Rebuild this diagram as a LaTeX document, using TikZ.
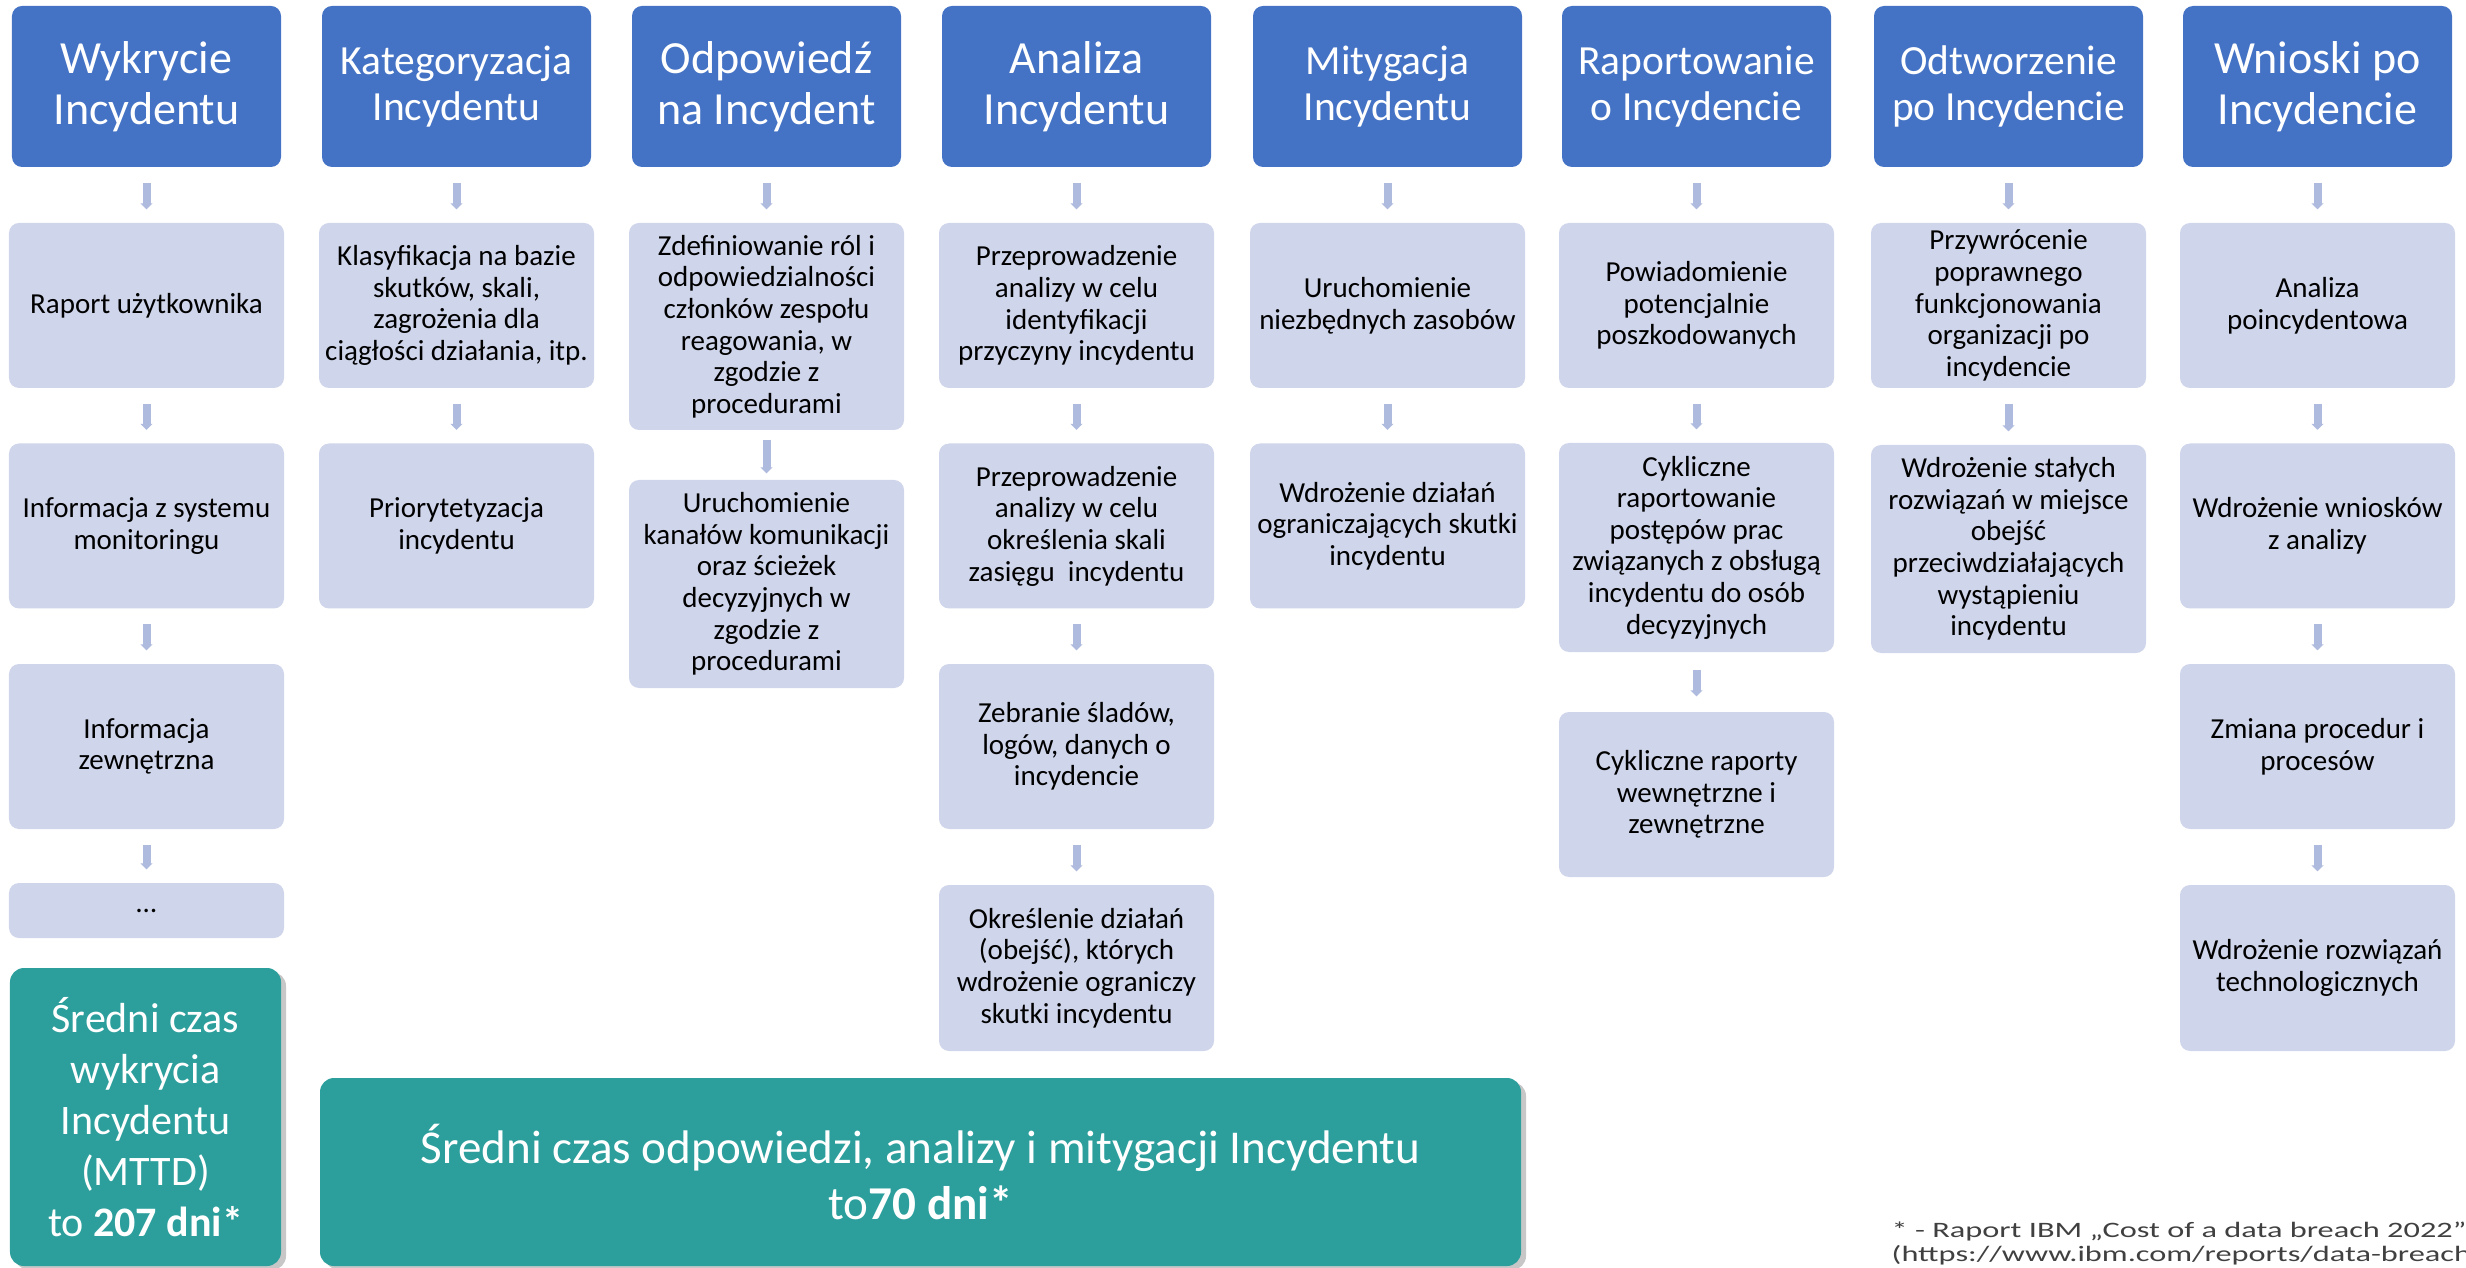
\documentclass[tikz,border=0pt]{standalone}
\usepackage{fontspec}
\setmainfont{Carlito}
\newfontfamily\notefont[FakeStretch=1.47]{Carlito}
\usetikzlibrary{arrows.meta,shadows}
\definecolor{stepblue}{RGB}{68,114,196}
\definecolor{steplav}{RGB}{207,213,234}
\definecolor{steparrow}{RGB}{174,186,222}
\definecolor{sumteal}{RGB}{44,159,157}
\definecolor{notegray}{RGB}{64,64,64}
\tikzset{
  ghead/.style ={rectangle, rounded corners=1mm, fill=stepblue, text=white,
                 minimum width=2.69cm, minimum height=1.61cm, inner sep=1pt,
                 align=center, font=\fontsize{13.1pt}{14.5pt}\selectfont},
  gheadS/.style={ghead, font=\fontsize{11.8pt}{13.1pt}\selectfont},
  gbox/.style  ={rectangle, rounded corners=1mm, fill=steplav, text=black,
                 minimum width=2.75cm, minimum height=1.65cm, inner sep=1pt,
                 align=center, font=\fontsize{8.25pt}{9.0pt}\selectfont},
  gflow/.style ={-{Triangle[width=1.2mm, length=0.6mm]}, line width=0.8mm, steparrow,
                 shorten <=1.5mm, shorten >=1.3mm},
  gsum/.style  ={rectangle, rounded corners=1.4mm, fill=sumteal, text=white,
                 align=center, inner sep=1pt,
                 drop shadow={shadow xshift=0.5mm, shadow yshift=-0.4mm,
                              fill=black, opacity=0.22}},
  gnote/.style ={anchor=north west, inner sep=0pt, align=left, text=notegray,
                 font=\notefont\fontsize{6.26pt}{6.8pt}\selectfont},
}
\begin{document}
\begin{tikzpicture}
\useasboundingbox (0,0) rectangle (24.66,-12.68);
% phases
\node[ghead]  (h1) at (1.465,-0.865)  {Wykrycie\\Incydentu};
\node[gheadS] (h2) at (4.565,-0.865)  {Kategoryzacja\\Incydentu};
\node[ghead]  (h3) at (7.665,-0.865)  {Odpowiedź\\na Incydent};
\node[ghead]  (h4) at (10.765,-0.865) {Analiza\\Incydentu};
\node[gheadS] (h5) at (13.875,-0.865) {Mitygacja\\Incydentu};
\node[gheadS] (h6) at (16.965,-0.865) {Raportowanie\\o Incydencie};
\node[gheadS] (h7) at (20.085,-0.865) {Odtworzenie\\po Incydencie};
\node[ghead]  (h8) at (23.175,-0.865) {Wnioski po\\Incydencie};
% steps
\node[gbox] (b11) at (1.465,-3.055) {Raport użytkownika};
\node[gbox] (b12) at (1.465,-5.26)  {Informacja z systemu\\monitoringu};
\node[gbox] (b13) at (1.465,-7.465) {Informacja\\zewnętrzna};
\node[gbox, minimum height=0.55cm] (b14) at (1.465,-9.105) {…};
\node[gbox] (b21) at (4.565,-3.055) {Klasyfikacja na bazie\\skutków, skali,\\zagrożenia dla\\ciągłości działania, itp.};
\node[gbox] (b22) at (4.565,-5.26)  {Priorytetyzacja\\incydentu};
\node[gbox, minimum height=2.07cm] (b31) at (7.665,-3.265) {Zdefiniowanie ról i\\odpowiedzialności\\członków zespołu\\reagowania, w\\zgodzie z\\procedurami};
\node[gbox, minimum height=2.08cm] (b32) at (7.665,-5.84) {Uruchomienie\\kanałów komunikacji\\oraz ścieżek\\decyzyjnych w\\zgodzie z\\procedurami};
\node[gbox] (b41) at (10.765,-3.055) {Przeprowadzenie\\analizy w celu\\identyfikacji\\przyczyny incydentu};
\node[gbox] (b42) at (10.765,-5.26)  {Przeprowadzenie\\analizy w celu\\określenia skali\\zasięgu~ incydentu};
\node[gbox] (b43) at (10.765,-7.465) {Zebranie śladów,\\logów, danych o\\incydencie};
\node[gbox, minimum height=1.66cm] (b44) at (10.765,-9.68) {Określenie działań\\(obejść), których\\wdrożenie ograniczy\\skutki incydentu};
\node[gbox] (b51) at (13.875,-3.055) {Uruchomienie\\niezbędnych zasobów};
\node[gbox] (b52) at (13.875,-5.26)  {Wdrożenie działań\\ograniczających skutki\\incydentu};
\node[gbox] (b61) at (16.965,-3.055) {Powiadomienie\\potencjalnie\\poszkodowanych};
\node[gbox, minimum height=2.09cm] (b62) at (16.965,-5.475) {Cykliczne\\raportowanie\\postępów prac\\związanych z obsługą\\incydentu do osób\\decyzyjnych};
\node[gbox] (b63) at (16.965,-7.945) {Cykliczne raporty\\wewnętrzne i\\zewnętrzne};
\node[gbox] (b71) at (20.085,-3.055) {Przywrócenie\\poprawnego\\funkcjonowania\\organizacji po\\incydencie};
\node[gbox, minimum height=2.08cm] (b72) at (20.085,-5.49) {Wdrożenie stałych\\rozwiązań w miejsce\\obejść\\przeciwdziałających\\wystąpieniu\\incydentu};
\node[gbox] (b81) at (23.175,-3.055) {Analiza\\poincydentowa};
\node[gbox] (b82) at (23.175,-5.26)  {Wdrożenie wniosków\\z analizy};
\node[gbox] (b83) at (23.175,-7.465) {Zmiana procedur i\\procesów};
\node[gbox, minimum height=1.66cm] (b84) at (23.175,-9.68) {Wdrożenie rozwiązań\\technologicznych};
% arrows
\draw[gflow] (h1) -- (b11); \draw[gflow] (h2) -- (b21); \draw[gflow] (h3) -- (b31); \draw[gflow] (h4) -- (b41);
\draw[gflow] (h5) -- (b51); \draw[gflow] (h6) -- (b61); \draw[gflow] (h7) -- (b71); \draw[gflow] (h8) -- (b81);
\draw[gflow] (b11) -- (b12); \draw[gflow] (b12) -- (b13); \draw[gflow] (b13) -- (b14);
\draw[gflow] (b21) -- (b22);
\draw[gflow, shorten <=0.9mm, shorten >=0.6mm] (b31) -- (b32);
\draw[gflow] (b41) -- (b42); \draw[gflow] (b42) -- (b43); \draw[gflow] (b43) -- (b44);
\draw[gflow] (b51) -- (b52);
\draw[gflow] (b61) -- (b62);
\draw[gflow, shorten <=1.7mm, shorten >=1.5mm] (b62) -- (b63);
\draw[gflow] (b71) -- (b72);
\draw[gflow] (b81) -- (b82); \draw[gflow] (b82) -- (b83); \draw[gflow] (b83) -- (b84);
% summary
\node[gsum, minimum width=2.71cm, minimum height=2.98cm, font=\fontsize{11.95pt}{14.5pt}\selectfont]
  (mttd) at (1.455,-11.17) {Średni czas\\wykrycia\\Incydentu\\(MTTD)\\to \textbf{207 dni*}};
\node[gsum, minimum width=12.01cm, minimum height=1.88cm, font=\fontsize{13.4pt}{16.2pt}\selectfont]
  (mttr) at (9.205,-11.72) {Średni czas odpowiedzi, analizy i mitygacji Incydentu\\to\textbf{70 dni*}};
\node[gnote] (note) at (18.91,-12.21) {* - Raport IBM „Cost of a data breach 2022”\\(\underline{https://www.ibm.com/reports/data-breach}};
\end{tikzpicture}
\end{document}
